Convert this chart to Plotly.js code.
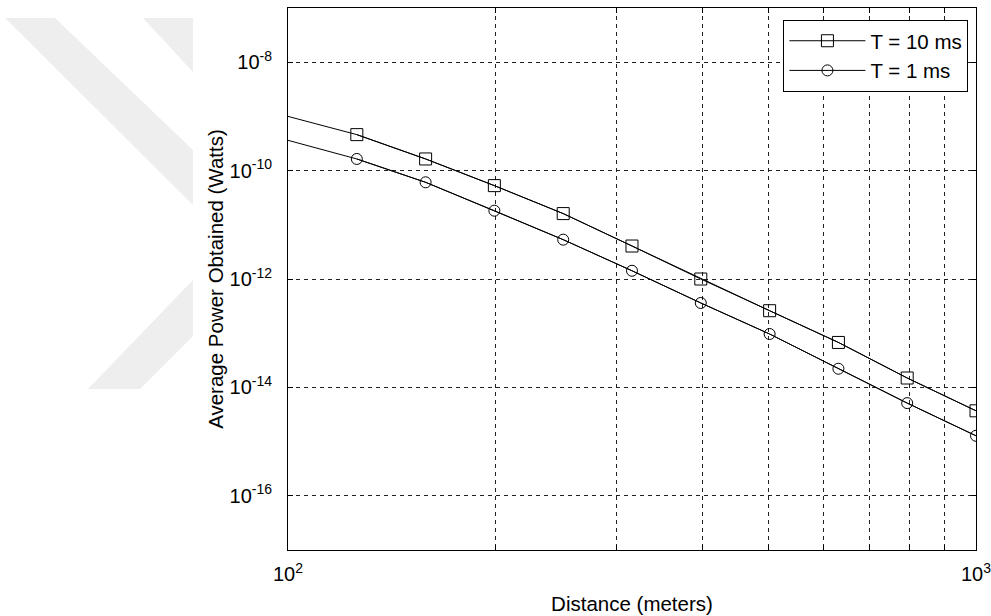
<!DOCTYPE html>
<html>
<head>
<meta charset="utf-8">
<script src="https://cdn.plot.ly/plotly-3.0.1.min.js"></script>
<style>html,body{margin:0;padding:0;background:#fff;}#chart{width:991px;height:616px;}</style>
</head>
<body>
<div id="chart"></div>
<script>
// Distance (meters); the first point (100 m) carries no marker
const distance = [100, 125.9, 158.5, 199.5, 251.2, 316.2, 398.1, 501.2, 631.0, 794.3, 1000];
// Average power obtained (Watts)
const power10ms = [1.00e-9, 4.61e-10, 1.64e-10, 5.28e-11, 1.61e-11, 4.06e-12, 1.00e-12, 2.60e-13, 6.75e-14, 1.49e-14, 3.70e-15];
const power1ms  = [3.62e-10, 1.64e-10, 6.08e-11, 1.82e-11, 5.32e-12, 1.42e-12, 3.61e-13, 9.66e-14, 2.21e-14, 5.13e-15, 1.28e-15];
const seriesNames = ['T = 10 ms', 'T = 1 ms'];

const xTickVals = [100, 200, 300, 400, 500, 600, 700, 800, 900, 1000];
const xTickText = ['10<sup>2</sup>', '', '', '', '', '', '', '', '', '10<sup>3</sup>'];
const yTickVals = [1e-16, 1e-14, 1e-12, 1e-10, 1e-8];
const yTickText = ['10<sup>-16</sup>', '10<sup>-14</sup>', '10<sup>-12</sup>', '10<sup>-10</sup>', '10<sup>-8</sup>'];

const FONT = 'Arial, "Liberation Sans", sans-serif';
const lineStyle = {color: '#000', width: 1};

const traces = [
  {x: distance, y: power10ms, mode: 'lines', line: lineStyle, showlegend: false, hoverinfo: 'skip'},
  {x: distance.slice(1), y: power10ms.slice(1), mode: 'lines+markers', name: seriesNames[0], line: lineStyle,
   marker: {symbol: 'square-open', size: 12, color: '#000', line: {width: 1, color: '#000'}}},
  {x: distance, y: power1ms, mode: 'lines', line: lineStyle, showlegend: false, hoverinfo: 'skip'},
  {x: distance.slice(1), y: power1ms.slice(1), mode: 'lines+markers', name: seriesNames[1], line: lineStyle,
   marker: {symbol: 'circle-open', size: 11, color: '#000', line: {width: 1, color: '#000'}}}
];

// faint background watermark (page decoration), given in pixel positions of the figure
const L = 288, R = 976, T = 8, B = 550;
function px(x) { return ((x - L) / (R - L)).toFixed(4); }
function py(y) { return ((B - y) / (B - T)).toFixed(4); }
function poly(pts) { return 'M' + pts.map(p => px(p[0]) + ',' + py(p[1])).join(' L') + ' Z'; }
const wm = [
  [[5,18],[55,18],[193,150],[193,205]],
  [[143,18],[193,18],[193,72]],
  [[193,280],[193,336],[140,389],[88,389]]
];
const shapes = wm.map(p => ({type: 'path', xref: 'paper', yref: 'paper', path: poly(p),
  fillcolor: 'rgb(238,238,238)', line: {width: 0}, layer: 'below'}));

const axisCommon = {
  type: 'log', showline: true, linecolor: '#000', linewidth: 1, mirror: 'ticks',
  ticks: 'inside', ticklen: 5, tickcolor: '#000', tickwidth: 1,
  showgrid: true, gridcolor: '#222', gridwidth: 1, griddash: '4px,4px',
  zeroline: false, tickfont: {family: FONT, size: 20, color: '#000'},
  ticklabeloverflow: 'allow'
};

const layout = {
  width: 991, height: 616,
  margin: {l: L, r: 991 - R, t: T, b: 616 - B},
  paper_bgcolor: '#fff', plot_bgcolor: 'rgba(0,0,0,0)',
  font: {family: FONT, color: '#000'},
  showlegend: true,
  xaxis: Object.assign({}, axisCommon, {
    range: [2, 3], tickmode: 'array', tickvals: xTickVals, ticktext: xTickText,
    ticklabelstandoff: 6,
    title: {text: 'Distance (meters)', font: {family: FONT, size: 20.5, color: '#000'}, standoff: 12}
  }),
  yaxis: Object.assign({}, axisCommon, {
    range: [-17, -7], tickmode: 'array', tickvals: yTickVals, ticktext: yTickText,
    ticklabelstandoff: 11,
    title: {text: 'Average Power Obtained (Watts)', font: {family: FONT, size: 20.5, color: '#000'}, standoff: 0}
  }),
  legend: {
    x: 0.989, xanchor: 'right', y: 0.978, yanchor: 'top',
    bgcolor: '#fff', bordercolor: '#000', borderwidth: 1,
    font: {family: FONT, size: 20.5, color: '#000'}, itemwidth: 76, tracegroupgap: 0
  },
  shapes: shapes
};

Plotly.newPlot('chart', traces, layout, {displayModeBar: false, staticPlot: true});
</script>
</body>
</html>
